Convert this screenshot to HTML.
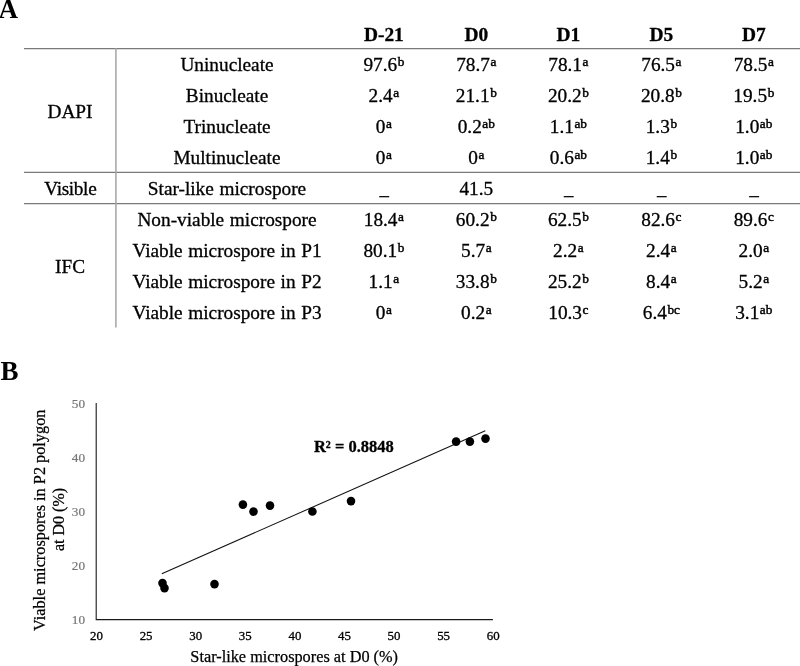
<!DOCTYPE html>
<html><head><meta charset="utf-8"><title>Figure</title>
<style>
html,body{margin:0;padding:0;background:#fff;}
body{will-change:transform;width:800px;height:666px;position:relative;overflow:hidden;font-family:"Liberation Serif",serif;color:#000;}
.t{position:absolute;-webkit-text-stroke:0.3px #000;white-space:nowrap;word-spacing:0.8px;line-height:1;transform:translateX(-50%);font-size:19.3px;}
.b{font-weight:bold;font-size:19.4px;}
.s{font-size:13.3px;position:relative;top:-5.3px;margin-left:0.6px;-webkit-text-stroke:0.45px #000;}
.pl{position:absolute;font-weight:bold;font-size:27px;line-height:1;}
svg{position:absolute;left:0;top:0;}
</style></head><body>

<div class="t b" style="left:383.9px;top:24.55px">D-21</div>
<div class="t b" style="left:476.3px;top:24.55px">D0</div>
<div class="t b" style="left:568.4px;top:24.55px">D1</div>
<div class="t b" style="left:661.4px;top:24.55px">D5</div>
<div class="t b" style="left:753.8px;top:24.55px">D7</div>
<div class="t" style="left:227px;top:55.24px">Uninucleate</div>
<div class="t" style="left:383.9px;top:55.24px">97.6<span class="s">b</span></div>
<div class="t" style="left:476.3px;top:55.24px">78.7<span class="s">a</span></div>
<div class="t" style="left:568.4px;top:55.24px">78.1<span class="s">a</span></div>
<div class="t" style="left:661.4px;top:55.24px">76.5<span class="s">a</span></div>
<div class="t" style="left:753.8px;top:55.24px">78.5<span class="s">a</span></div>
<div class="t" style="left:227px;top:86.24px">Binucleate</div>
<div class="t" style="left:383.9px;top:86.24px">2.4<span class="s">a</span></div>
<div class="t" style="left:476.3px;top:86.24px">21.1<span class="s">b</span></div>
<div class="t" style="left:568.4px;top:86.24px">20.2<span class="s">b</span></div>
<div class="t" style="left:661.4px;top:86.24px">20.8<span class="s">b</span></div>
<div class="t" style="left:753.8px;top:86.24px">19.5<span class="s">b</span></div>
<div class="t" style="left:227px;top:117.34px">Trinucleate</div>
<div class="t" style="left:383.9px;top:117.34px">0<span class="s">a</span></div>
<div class="t" style="left:476.3px;top:117.34px">0.2<span class="s">ab</span></div>
<div class="t" style="left:568.4px;top:117.34px">1.1<span class="s">ab</span></div>
<div class="t" style="left:661.4px;top:117.34px">1.3<span class="s">b</span></div>
<div class="t" style="left:753.8px;top:117.34px">1.0<span class="s">ab</span></div>
<div class="t" style="left:227px;top:148.44px">Multinucleate</div>
<div class="t" style="left:383.9px;top:148.44px">0<span class="s">a</span></div>
<div class="t" style="left:476.3px;top:148.44px">0<span class="s">a</span></div>
<div class="t" style="left:568.4px;top:148.44px">0.6<span class="s">ab</span></div>
<div class="t" style="left:661.4px;top:148.44px">1.4<span class="s">b</span></div>
<div class="t" style="left:753.8px;top:148.44px">1.0<span class="s">ab</span></div>
<div class="t" style="left:227px;top:179.44px">Star-like microspore</div>
<div class="t" style="left:476.3px;top:179.44px">41.5</div>
<div class="t" style="left:227px;top:210.14px">Non-viable microspore</div>
<div class="t" style="left:383.9px;top:210.14px">18.4<span class="s">a</span></div>
<div class="t" style="left:476.3px;top:210.14px">60.2<span class="s">b</span></div>
<div class="t" style="left:568.4px;top:210.14px">62.5<span class="s">b</span></div>
<div class="t" style="left:661.4px;top:210.14px">82.6<span class="s">c</span></div>
<div class="t" style="left:753.8px;top:210.14px">89.6<span class="s">c</span></div>
<div class="t" style="left:227px;top:241.14px">Viable microspore in P1</div>
<div class="t" style="left:383.9px;top:241.14px">80.1<span class="s">b</span></div>
<div class="t" style="left:476.3px;top:241.14px">5.7<span class="s">a</span></div>
<div class="t" style="left:568.4px;top:241.14px">2.2<span class="s">a</span></div>
<div class="t" style="left:661.4px;top:241.14px">2.4<span class="s">a</span></div>
<div class="t" style="left:753.8px;top:241.14px">2.0<span class="s">a</span></div>
<div class="t" style="left:227px;top:272.14px">Viable microspore in P2</div>
<div class="t" style="left:383.9px;top:272.14px">1.1<span class="s">a</span></div>
<div class="t" style="left:476.3px;top:272.14px">33.8<span class="s">b</span></div>
<div class="t" style="left:568.4px;top:272.14px">25.2<span class="s">b</span></div>
<div class="t" style="left:661.4px;top:272.14px">8.4<span class="s">a</span></div>
<div class="t" style="left:753.8px;top:272.14px">5.2<span class="s">a</span></div>
<div class="t" style="left:227px;top:303.14px">Viable microspore in P3</div>
<div class="t" style="left:383.9px;top:303.14px">0<span class="s">a</span></div>
<div class="t" style="left:476.3px;top:303.14px">0.2<span class="s">a</span></div>
<div class="t" style="left:568.4px;top:303.14px">10.3<span class="s">c</span></div>
<div class="t" style="left:661.4px;top:303.14px">6.4<span class="s">bc</span></div>
<div class="t" style="left:753.8px;top:303.14px">3.1<span class="s">ab</span></div>
<div class="t" style="left:70px;top:101.84px">DAPI</div>
<div class="t" style="left:70.3px;top:179.44px;letter-spacing:-0.35px">Visible</div>
<div class="t" style="left:70px;top:256.84px">IFC</div>
<div class="pl" style="left:-1.4px;top:-3.6px">A</div>
<div class="pl" style="left:0.5px;top:358.2px">B</div>
<svg width="800" height="666" viewBox="0 0 800 666" font-family="Liberation Serif, serif">
<line x1="24" y1="48.65" x2="800" y2="48.65" stroke="#7a7a7a" stroke-width="1.25"/>
<line x1="24" y1="172.40" x2="800" y2="172.40" stroke="#7a7a7a" stroke-width="1.25"/>
<line x1="24" y1="203.70" x2="800" y2="203.70" stroke="#7a7a7a" stroke-width="1.25"/>
<line x1="115.9" y1="48" x2="115.9" y2="327.6" stroke="#a4a4a4" stroke-width="1.5"/>
<line x1="379.20" y1="196.65" x2="389.20" y2="196.65" stroke="#111" stroke-width="1.35"/>
<line x1="563.70" y1="196.65" x2="573.70" y2="196.65" stroke="#111" stroke-width="1.35"/>
<line x1="656.70" y1="196.65" x2="666.70" y2="196.65" stroke="#111" stroke-width="1.35"/>
<line x1="749.10" y1="196.65" x2="759.10" y2="196.65" stroke="#111" stroke-width="1.35"/>
<path d="M96.2 403.1 V619.6 H492.9" fill="none" stroke="#1a1a1a" stroke-width="1.1"/>
<text x="85" y="623.6" text-anchor="end" font-size="13.2" fill="#767676" stroke="#767676" stroke-width="0.2">10</text>
<text x="85" y="569.6" text-anchor="end" font-size="13.2" fill="#767676" stroke="#767676" stroke-width="0.2">20</text>
<text x="85" y="515.6" text-anchor="end" font-size="13.2" fill="#767676" stroke="#767676" stroke-width="0.2">30</text>
<text x="85" y="461.6" text-anchor="end" font-size="13.2" fill="#767676" stroke="#767676" stroke-width="0.2">40</text>
<text x="85" y="407.6" text-anchor="end" font-size="13.2" fill="#767676" stroke="#767676" stroke-width="0.2">50</text>
<text x="96.5" y="639.8" text-anchor="middle" font-size="12.9" fill="#000" stroke="#000" stroke-width="0.3">20</text>
<text x="146.1" y="639.8" text-anchor="middle" font-size="12.9" fill="#000" stroke="#000" stroke-width="0.3">25</text>
<text x="195.7" y="639.8" text-anchor="middle" font-size="12.9" fill="#000" stroke="#000" stroke-width="0.3">30</text>
<text x="245.3" y="639.8" text-anchor="middle" font-size="12.9" fill="#000" stroke="#000" stroke-width="0.3">35</text>
<text x="294.9" y="639.8" text-anchor="middle" font-size="12.9" fill="#000" stroke="#000" stroke-width="0.3">40</text>
<text x="344.4" y="639.8" text-anchor="middle" font-size="12.9" fill="#000" stroke="#000" stroke-width="0.3">45</text>
<text x="394.0" y="639.8" text-anchor="middle" font-size="12.9" fill="#000" stroke="#000" stroke-width="0.3">50</text>
<text x="443.6" y="639.8" text-anchor="middle" font-size="12.9" fill="#000" stroke="#000" stroke-width="0.3">55</text>
<text x="493.2" y="639.8" text-anchor="middle" font-size="12.9" fill="#000" stroke="#000" stroke-width="0.3">60</text>
<line x1="161.8" y1="573.8" x2="485.3" y2="430.8" stroke="#111" stroke-width="1.05"/>
<circle cx="162.5" cy="583.1" r="4.3" fill="#000"/>
<circle cx="164.5" cy="588.1" r="4.3" fill="#000"/>
<circle cx="214.5" cy="584.1" r="4.3" fill="#000"/>
<circle cx="242.9" cy="504.6" r="4.3" fill="#000"/>
<circle cx="253.5" cy="511.6" r="4.3" fill="#000"/>
<circle cx="270.0" cy="505.6" r="4.3" fill="#000"/>
<circle cx="312.4" cy="511.5" r="4.3" fill="#000"/>
<circle cx="351.0" cy="501.1" r="4.3" fill="#000"/>
<circle cx="456.1" cy="441.6" r="4.3" fill="#000"/>
<circle cx="469.9" cy="441.6" r="4.3" fill="#000"/>
<circle cx="485.5" cy="438.6" r="4.3" fill="#000"/>
<text x="353.9" y="452.4" text-anchor="middle" font-size="16.5" font-weight="bold" fill="#000" stroke="#000" stroke-width="0.3">R² = 0.8848</text>
<text x="294.2" y="661.6" text-anchor="middle" font-size="16.3" fill="#000" stroke="#000" stroke-width="0.25">Star-like microspores at D0 (%)</text>
<text transform="translate(45,520.3) rotate(-90)" text-anchor="middle" font-size="16.3" stroke="#000" stroke-width="0.25" fill="#000">Viable microspores in P2 polygon</text>
<text transform="translate(64.2,519.5) rotate(-90)" text-anchor="middle" font-size="16" stroke="#000" stroke-width="0.25" fill="#000">at D0 (%)</text>
</svg>
</body></html>
